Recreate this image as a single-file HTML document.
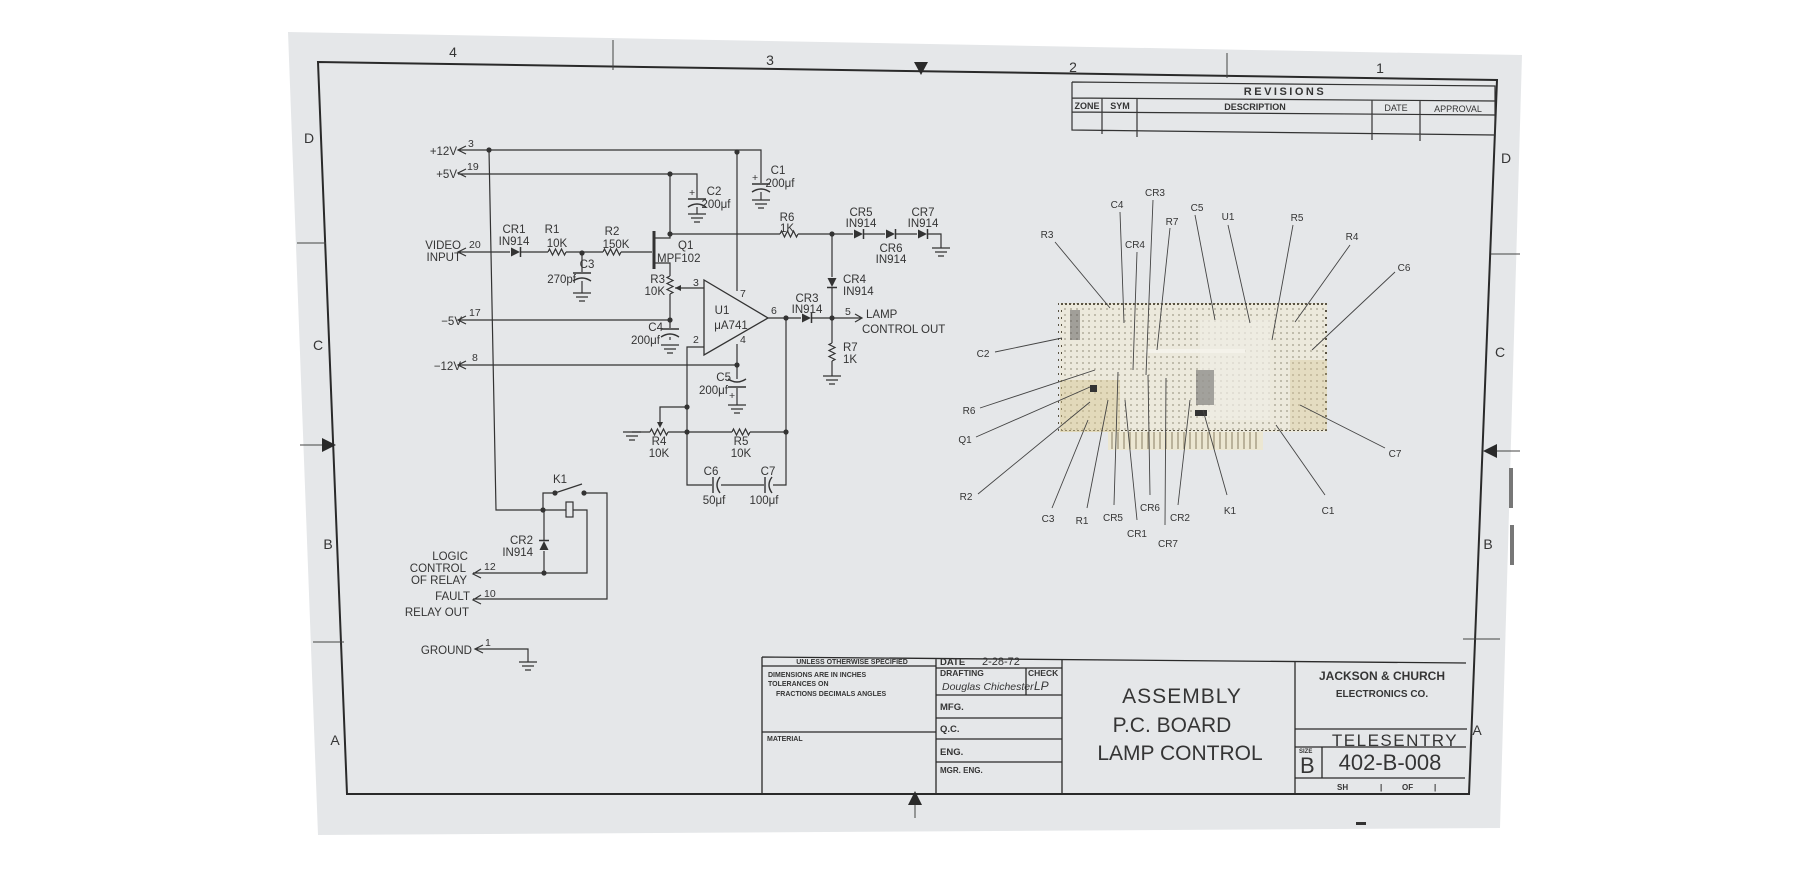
<!DOCTYPE html>
<html><head><meta charset="utf-8"><style>
html,body{margin:0;padding:0;background:#fff;}
svg{display:block}
text{font-family:"Liberation Sans",sans-serif;fill:#353535}
</style></head><body>
<svg width="1800" height="875" viewBox="0 0 1800 875" xmlns="http://www.w3.org/2000/svg">
<defs>
<pattern id="dots" width="6" height="6" patternUnits="userSpaceOnUse"><circle cx="3" cy="3" r="1" fill="#6a6450"/></pattern>
<pattern id="sdots" width="4" height="7" patternUnits="userSpaceOnUse"><rect x="1" y="2" width="2" height="2" fill="#5a5444"/></pattern>
<g id="rh"><rect x="-9" y="-4" width="18" height="8" fill="#e5e7e9"/><path d="M-9 0 l1.5 -3 l3 6 l3 -6 l3 6 l3 -6 l3 6 l1.5 -3" fill="none" stroke="#333" stroke-width="1.2"/></g>
<g id="rv"><rect x="-4" y="-9" width="8" height="18" fill="#e5e7e9"/><path d="M0 -9 l-3 1.5 l6 3 l-6 3 l6 3 l-6 3 l6 3 l-3 1.5" fill="none" stroke="#333" stroke-width="1.2"/></g>
<g id="dr"><rect x="-6" y="-5" width="11" height="10" fill="#e5e7e9"/><polygon points="-5,-4.5 -5,4.5 4,0" fill="#333"/><path d="M4.5 -5 V5" stroke="#333" stroke-width="1.5"/></g>
<g id="dd"><rect x="-5" y="-6" width="10" height="11" fill="#e5e7e9"/><polygon points="-4.5,-5 4.5,-5 0,4" fill="#333"/><path d="M-5 4.5 H5" stroke="#333" stroke-width="1.5"/></g>
<g id="du"><rect x="-5" y="-5" width="10" height="11" fill="#e5e7e9"/><polygon points="-4.5,5 4.5,5 0,-4" fill="#333"/><path d="M-5 -4.5 H5" stroke="#333" stroke-width="1.5"/></g>
<g id="gnd"><path d="M-9 0 H9 M-6 4 H6 M-3 8 H3" stroke="#333" stroke-width="1.2"/></g>
<g id="cv"><rect x="-9" y="-4" width="18" height="9" fill="#e5e7e9"/><path d="M-9 -3 H9" stroke="#333" stroke-width="1.4"/><path d="M-9 5 Q0 -1 9 5" fill="none" stroke="#333" stroke-width="1.4"/></g>
<g id="cvi"><rect x="-9" y="-5" width="18" height="9" fill="#e5e7e9"/><path d="M-9 3 H9" stroke="#333" stroke-width="1.4"/><path d="M-9 -5 Q0 1 9 -5" fill="none" stroke="#333" stroke-width="1.4"/></g>
<g id="ch"><rect x="-4" y="-9" width="9" height="18" fill="#e5e7e9"/><path d="M-3 -8 V8" stroke="#333" stroke-width="1.4"/><path d="M4 -8 Q-2 0 4 8" fill="none" stroke="#333" stroke-width="1.4"/></g>
<g id="dot"><circle r="2.6" fill="#333"/></g>
</defs>

<!-- paper -->
<polygon points="288,32 1522,55 1500,828 318,835" fill="#e5e7e9"/>
<path d="M1509 468 h4 v40 h-4z M1510 525 h4 v40 h-4z" fill="#777"/>
<path d="M1356 822 h10 v3 h-10z" fill="#333"/>

<!-- border -->
<polygon points="318,62 1497,80 1469,794 347,794" fill="none" stroke="#2a2a2a" stroke-width="2"/>
<g stroke="#444" stroke-width="1">
<path d="M613 40 V70 M1227 53 V78 M297 243 H326 M313 642 H344 M1491 254 H1520 M1463 639 H1500 M915 805 V818"/>
</g>
<polygon points="914,62 928,62 921,75" fill="#2a2a2a"/>
<polygon points="908,805 922,805 915,791" fill="#2a2a2a"/>
<polygon points="322,438 322,452 336,445" fill="#2a2a2a"/>
<polygon points="1497,444 1497,458 1483,451" fill="#2a2a2a"/>
<path d="M300 445 H322 M1497 451 H1520" stroke="#444"/>
<g font-size="14" text-anchor="middle">
<text x="453" y="57">4</text><text x="770" y="65">3</text><text x="1073" y="72">2</text><text x="1380" y="73">1</text>
<text x="309" y="143">D</text><text x="318" y="350">C</text><text x="328" y="549">B</text><text x="335" y="745">A</text>
<text x="1506" y="163">D</text><text x="1500" y="357">C</text><text x="1488" y="549">B</text><text x="1477" y="735">A</text>
</g>

<!-- revisions -->
<g stroke="#333" stroke-width="1.2" fill="none">
<path d="M1072 82 L1495 86 V135 M1072 82 V130 L1495 135 M1072 98 L1495 101 M1072 112 L1495 115 M1102 98 V134 M1137 99 V137 M1372 100 V140 M1420 101 V141"/>
</g>
<g font-size="9" text-anchor="middle" font-weight="bold">
<text x="1285" y="95" font-size="11" letter-spacing="2.5">REVISIONS</text>
<text x="1087" y="109">ZONE</text><text x="1120" y="109">SYM</text><text x="1255" y="110">DESCRIPTION</text><text x="1396" y="111" font-weight="normal">DATE</text><text x="1458" y="112" font-weight="normal">APPROVAL</text>
</g>

<!-- schematic wires -->
<g stroke="#333" stroke-width="1.2" fill="none">
<path d="M466 146 L458 150 L466 154 M458 150 H761 V200"/>
<path d="M466 169 L458 173 L466 177 M458 174 H697 V214"/>
<path d="M670 174 V238 H654 M654 263 H670 V340"/>
<path d="M670 234 H941 V248"/>
<path d="M737 152 V291 M737 344 V405"/>
<path d="M466 248 L458 252 L466 256 M458 252 H652 M582 253 V293"/>
<path d="M466 316 L458 320 L466 324 M458 320 H670"/>
<path d="M466 361 L458 365 L466 369 M458 365 H737"/>
<path d="M768 318 H861 M855 314 L862 318 L855 322"/>
<path d="M832 234 V376"/>
<path d="M786 318 V485 H687 V347 H704"/>
<path d="M675 288 H704"/>
<path d="M632 432 H786 M687 407 H660 V426"/>
<path d="M489 150 L496 510 H566 M573 510 H587 V573 H473 M481 569 L473 574 L481 578 M544 510 V573"/>
<path d="M543 510 V493 H555 L582 484 M584 493 H607 V599 H473 M481 595 L473 600 L481 604"/>
<path d="M483 645 L475 649 L483 653 M475 649 H528 V662"/>
</g>
<polygon points="675,288 681,285 681,291" fill="#333"/>
<polygon points="660,428 657,422 663,422" fill="#333"/>
<rect x="652.5" y="231" width="3" height="38" fill="#333"/>
<rect x="566" y="502" width="7" height="15" fill="#e5e7e9" stroke="#333" stroke-width="1.2"/>
<polygon points="704,280 704,355 768,318" fill="#e5e7e9" stroke="#333" stroke-width="1.3"/>

<!-- components -->
<use href="#cv" x="761" y="187"/><use href="#gnd" x="761" y="200"/>
<use href="#cv" x="697" y="202"/><use href="#gnd" x="697" y="214"/>
<use href="#rh" x="789" y="234"/>
<use href="#dr" x="859" y="234"/><use href="#dr" x="891" y="234"/><use href="#dr" x="923" y="234"/>
<use href="#gnd" x="941" y="248"/>
<use href="#dr" x="516" y="252"/><use href="#rh" x="557" y="252"/><use href="#rh" x="612" y="252"/>
<use href="#cv" x="582" y="276"/><use href="#gnd" x="582" y="293"/>
<use href="#rv" x="670" y="285"/>
<use href="#cv" x="670" y="332"/><use href="#gnd" x="670" y="345"/>
<use href="#cvi" x="737" y="384"/><use href="#gnd" x="737" y="405"/>
<use href="#dr" x="807" y="318"/>
<use href="#dd" x="832" y="283"/><use href="#rv" x="832" y="352"/><use href="#gnd" x="832" y="376"/>
<use href="#rh" x="659" y="432"/><use href="#rh" x="741" y="432"/><use href="#gnd" x="632" y="432"/>
<use href="#ch" x="716" y="485"/><use href="#ch" x="768" y="485"/>
<use href="#du" x="544" y="545"/>
<use href="#gnd" x="528" y="662"/>
<use href="#dot" x="489" y="150"/><use href="#dot" x="737" y="152"/><use href="#dot" x="670" y="174"/>
<use href="#dot" x="670" y="234"/><use href="#dot" x="832" y="234"/><use href="#dot" x="582" y="253"/>
<use href="#dot" x="670" y="320"/><use href="#dot" x="737" y="365"/><use href="#dot" x="786" y="318"/>
<use href="#dot" x="832" y="318"/><use href="#dot" x="687" y="407"/><use href="#dot" x="687" y="432"/>
<use href="#dot" x="786" y="432"/><use href="#dot" x="543" y="510"/><use href="#dot" x="544" y="573"/>
<use href="#dot" x="555" y="493"/><use href="#dot" x="584" y="493"/>

<!-- schematic text -->
<g font-size="11.5">
<g text-anchor="end">
<text x="457" y="155">+12V</text><text x="457" y="178">+5V</text>
<text x="461" y="249">VIDEO</text><text x="461" y="261">INPUT</text>
<text x="462" y="325">−5V</text><text x="461" y="370">−12V</text>
<text x="665" y="283">R3</text><text x="665" y="295">10K</text>
<text x="663" y="331">C4</text><text x="660" y="344">200μf</text>
<text x="731" y="381">C5</text><text x="728" y="394">200μf</text>
<text x="576" y="283">270pf</text>
<text x="533" y="544">CR2</text><text x="533" y="556">IN914</text>
<text x="468" y="560">LOGIC</text><text x="466" y="572">CONTROL</text><text x="467" y="584">OF RELAY</text>
<text x="470" y="600">FAULT</text><text x="469" y="616">RELAY OUT</text>
<text x="472" y="654">GROUND</text>
</g>
<g font-size="10.5"><text x="468" y="147">3</text><text x="467" y="170">19</text><text x="469" y="248">20</text><text x="469" y="316">17</text><text x="472" y="361">8</text><text x="484" y="570">12</text><text x="484" y="597">10</text><text x="485" y="646">1</text></g>
<g text-anchor="middle">
<text x="778" y="174">C1</text><text x="780" y="187">200μf</text>
<text x="714" y="195">C2</text><text x="716" y="208">200μf</text>
<text x="787" y="221">R6</text><text x="787" y="232">1K</text>
<text x="861" y="216">CR5</text><text x="861" y="227">IN914</text>
<text x="891" y="252">CR6</text><text x="891" y="263">IN914</text>
<text x="923" y="216">CR7</text><text x="923" y="227">IN914</text>
<text x="514" y="233">CR1</text><text x="514" y="245">IN914</text>
<text x="552" y="233">R1</text><text x="557" y="247">10K</text>
<text x="612" y="235">R2</text><text x="616" y="248">150K</text>
<text x="587" y="268">C3</text>
<text x="807" y="302">CR3</text><text x="807" y="313">IN914</text>
<text x="722" y="314">U1</text><text x="731" y="329">μA741</text>
<text x="659" y="445">R4</text><text x="659" y="457">10K</text>
<text x="741" y="445">R5</text><text x="741" y="457">10K</text>
<text x="711" y="475">C6</text><text x="714" y="504">50μf</text>
<text x="768" y="475">C7</text><text x="764" y="504">100μf</text>
<text x="560" y="483">K1</text>
</g>
<text x="678" y="249">Q1</text><text x="657" y="262">MPF102</text>
<text x="843" y="283">CR4</text><text x="843" y="295">IN914</text>
<text x="843" y="351">R7</text><text x="843" y="363">1K</text>
<text x="866" y="318">LAMP</text><text x="862" y="333">CONTROL OUT</text>
<text x="845" y="315" font-size="10.5">5</text>
<g font-size="10.5"><text x="693" y="286">3</text><text x="740" y="297">7</text><text x="740" y="343">4</text><text x="771" y="314">6</text><text x="693" y="343">2</text>
<text x="752" y="181">+</text><text x="689" y="196">+</text><text x="729" y="399">+</text></g>
</g>

<!-- PCB -->
<g>
<rect x="1108" y="428" width="155" height="22" fill="#ece7d2"/>
<path d="M1112 432 V449 M1118 432 V449 M1124 432 V449 M1130 432 V449 M1136 432 V449 M1142 432 V449 M1148 432 V449 M1154 432 V449 M1160 432 V449 M1166 432 V449 M1172 432 V449 M1178 432 V449 M1184 432 V449 M1190 432 V449 M1196 432 V449 M1202 432 V449 M1208 432 V449 M1214 432 V449 M1220 432 V449 M1226 432 V449 M1232 432 V449 M1238 432 V449 M1244 432 V449 M1250 432 V449 M1256 432 V449" stroke="#9a9076" stroke-width="1.2"/>
<rect x="1060" y="303" width="267" height="129" fill="#ece9dc"/>
<rect x="1060" y="303" width="267" height="129" fill="url(#dots)" opacity="0.45"/>
<rect x="1060" y="303" width="267" height="129" fill="none" stroke="url(#sdots)" stroke-width="4"/>
<rect x="1060" y="380" width="60" height="52" fill="#d8c690" opacity="0.45"/>
<rect x="1290" y="360" width="37" height="70" fill="#d8c690" opacity="0.35"/>
<rect x="1200" y="320" width="70" height="100" fill="#f0ede4" opacity="0.7"/>
<rect x="1196" y="370" width="18" height="35" fill="#555" opacity="0.5"/>
<rect x="1070" y="310" width="10" height="30" fill="#555" opacity="0.5"/>
<rect x="1145" y="349" width="100" height="4" fill="#f4f2ea"/>
<rect x="1195" y="410" width="12" height="6" fill="#333"/>
<rect x="1090" y="385" width="7" height="7" fill="#333"/>
</g>
<g stroke="#444" stroke-width="0.9">
<path d="M1055 242 L1110 308 M1120 212 L1124 323 M1153 200 L1146 375 M1137 252 L1133 370 M1170 228 L1157 350 M1195 215 L1215 320 M1228 225 L1250 323 M1293 225 L1272 340 M1350 245 L1295 322 M1395 272 L1312 350 M995 352 L1062 338 M980 408 L1095 370 M976 437 L1090 387 M978 494 L1090 402 M1052 508 L1088 420 M1087 508 L1108 400 M1114 505 L1118 372 M1137 520 L1125 400 M1150 495 L1148 375 M1165 525 L1166 378 M1178 505 L1190 400 M1227 495 L1203 410 M1325 495 L1276 425 M1385 448 L1300 405"/>
</g>
<g font-size="10" fill="#444" text-anchor="middle">
<text x="1047" y="238">R3</text><text x="1117" y="208">C4</text><text x="1155" y="196">CR3</text><text x="1135" y="248">CR4</text><text x="1172" y="225">R7</text><text x="1197" y="211">C5</text><text x="1228" y="220">U1</text><text x="1297" y="221">R5</text><text x="1352" y="240">R4</text><text x="1404" y="271">C6</text>
<text x="983" y="357">C2</text><text x="969" y="414">R6</text><text x="965" y="443">Q1</text><text x="966" y="500">R2</text>
<text x="1048" y="522">C3</text><text x="1082" y="524">R1</text><text x="1113" y="521">CR5</text><text x="1137" y="537">CR1</text><text x="1150" y="511">CR6</text><text x="1168" y="547">CR7</text><text x="1180" y="521">CR2</text><text x="1230" y="514">K1</text><text x="1328" y="514">C1</text><text x="1395" y="457">C7</text>
</g>

<!-- title block -->
<g stroke="#2a2a2a" stroke-width="1.3" fill="none">
<path d="M762 657 L1466 663 M762 657 V794 M936 658 V794 M1062 659 V794 M1295 661 V794"/>
<path d="M762 666 H936 M762 732 H936"/>
<path d="M936 668 H1062 M936 695 H1062 M936 718 H1062 M936 739 H1062 M936 762 H1062 M1026 668 V695"/>
<path d="M1295 729 H1467 M1295 747 H1466 M1295 778 H1465 M1322 747 V778"/>
</g>
<g font-size="7" font-weight="bold">
<text x="852" y="664" text-anchor="middle">UNLESS OTHERWISE SPECIFIED</text>
<text x="768" y="677">DIMENSIONS ARE IN INCHES</text>
<text x="768" y="686">TOLERANCES ON</text>
<text x="776" y="696">FRACTIONS   DECIMALS   ANGLES</text>
<text x="767" y="741">MATERIAL</text>
</g>
<g font-size="9.5" font-weight="bold">
<text x="940" y="665">DATE</text><text x="940" y="676" font-size="8.5">DRAFTING</text><text x="1028" y="676" font-size="8.5">CHECK</text>
<text x="940" y="710">MFG.</text><text x="940" y="732">Q.C.</text><text x="940" y="755">ENG.</text><text x="940" y="773" font-size="8">MGR. ENG.</text>
</g>
<text x="982" y="665" font-size="11">2-28-72</text>
<text x="942" y="690" font-size="10.5" font-style="italic" font-family="Liberation Serif">Douglas Chichester</text>
<text x="1034" y="690" font-size="12" font-style="italic" font-family="Liberation Serif">LP</text>
<g font-size="21" text-anchor="middle" fill="#3a3a3a">
<text x="1182" y="703" letter-spacing="1">ASSEMBLY</text>
<text x="1172" y="732">P.C. BOARD</text>
<text x="1180" y="760">LAMP CONTROL</text>
</g>
<text x="1382" y="680" font-size="12" font-weight="bold" text-anchor="middle">JACKSON &amp; CHURCH</text>
<text x="1382" y="697" font-size="10" font-weight="bold" text-anchor="middle">ELECTRONICS CO.</text>
<text x="1395" y="746" font-size="17" text-anchor="middle" letter-spacing="1.5">TELESENTRY</text>
<text x="1299" y="753" font-size="6" font-weight="bold">SIZE</text>
<text x="1300" y="773" font-size="22">B</text>
<text x="1390" y="770" font-size="22" text-anchor="middle">402-B-008</text>
<g font-size="8" font-weight="bold"><text x="1337" y="790">SH</text><text x="1380" y="790">|</text><text x="1402" y="790">OF</text><text x="1434" y="790">|</text></g>
</svg>
</body></html>
